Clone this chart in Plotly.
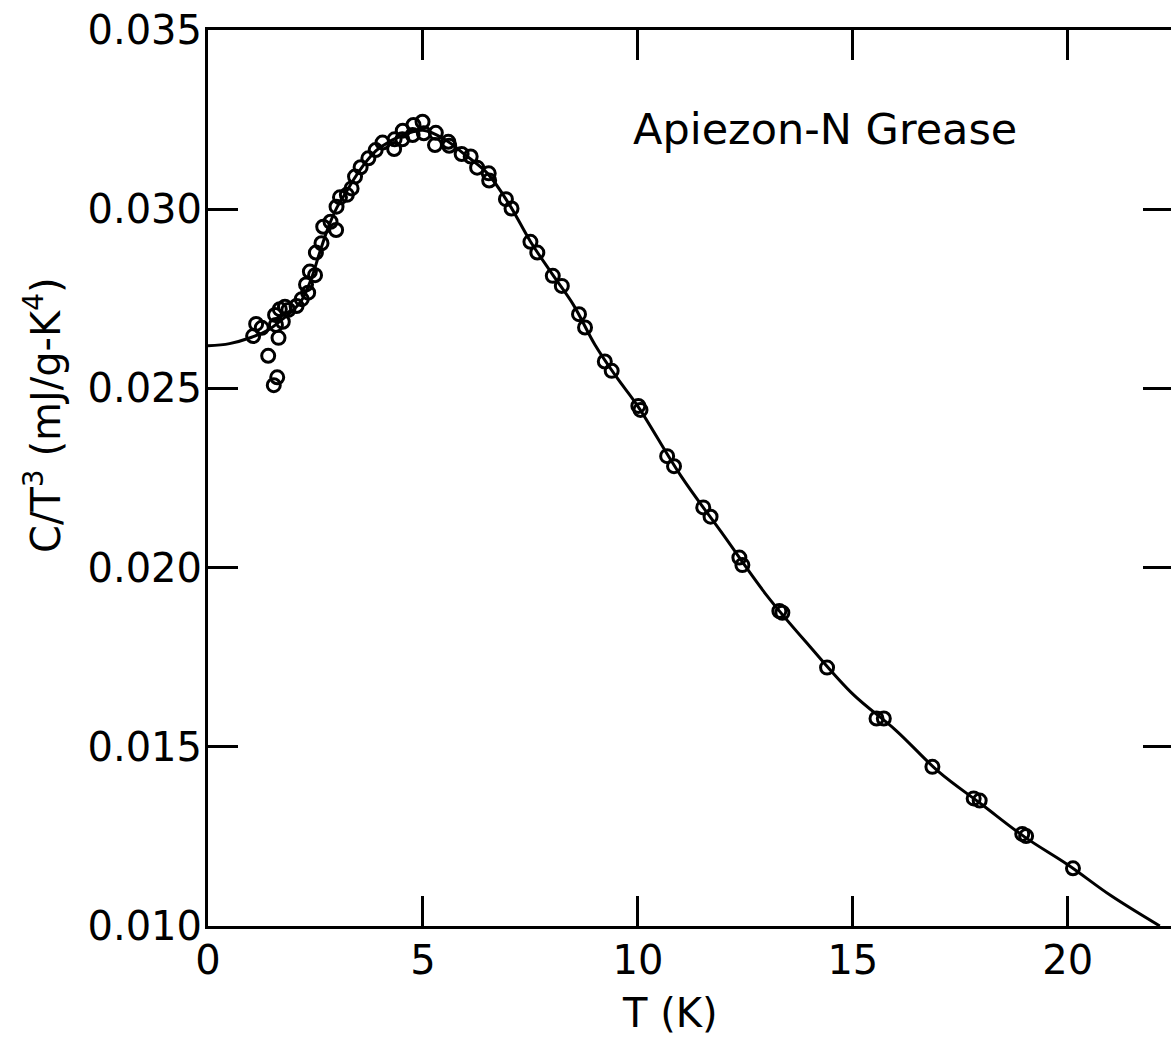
import plotly.graph_objects as go

# Measured points (T in K, C/T^3 in mJ/g-K^4)
T_pts = [1.05, 1.12, 1.25, 1.40, 1.53, 1.61, 1.64, 1.56, 1.58, 1.67, 1.74, 1.79, 1.87,
         2.06, 2.18, 2.28, 2.33, 2.37, 2.49, 2.51, 2.64, 2.68, 2.85, 2.98, 2.99, 3.07,
         3.23, 3.34, 3.42, 3.55, 3.73, 3.90, 4.06, 4.33, 4.34, 4.52, 4.53, 4.76, 4.78,
         4.99, 5.02, 5.28, 5.30, 5.59, 5.61, 5.90, 6.11, 6.26, 6.53, 6.54, 6.93, 7.06,
         7.50, 7.66, 8.02, 8.23, 8.63, 8.77, 9.23, 9.39, 10.01, 10.06, 10.68, 10.84,
         11.52, 11.69, 12.36, 12.43, 13.29, 13.36, 14.40, 15.55, 15.72, 16.85, 17.81,
         17.95, 18.94, 19.03, 20.12]
C_pts = [0.02646, 0.02680, 0.02669, 0.02591, 0.02509, 0.02531, 0.02641, 0.02705, 0.02677,
         0.02721, 0.02686, 0.02728, 0.02719, 0.02730, 0.02749, 0.02790, 0.02767, 0.02826,
         0.02816, 0.02879, 0.02905, 0.02951, 0.02965, 0.02942, 0.03007, 0.03033, 0.03040,
         0.03058, 0.03091, 0.03117, 0.03142, 0.03165, 0.03186, 0.03168, 0.03195, 0.03195,
         0.03219, 0.03207, 0.03235, 0.03244, 0.03212, 0.03179, 0.03213, 0.03188, 0.03177,
         0.03154, 0.03147, 0.03116, 0.03100, 0.03080, 0.03028, 0.03002, 0.02909, 0.02879,
         0.02814, 0.02786, 0.02707, 0.02670, 0.02575, 0.02549, 0.02451, 0.02440, 0.02311,
         0.02283, 0.02168, 0.02142, 0.02028, 0.02007, 0.01879, 0.01874, 0.01721, 0.01579,
         0.01579, 0.01444, 0.01356, 0.01350, 0.01257, 0.01251, 0.01161]

# Fitted curve
T_fit = [0, 0.5, 1.0, 1.4, 1.7, 2.0, 2.2, 2.4, 2.6, 2.8, 3.0, 3.2, 3.4, 3.6, 3.8, 4.0,
         4.5, 5.0, 5.5, 6.0, 6.5, 7.0, 7.5, 8.0, 8.5, 9.0, 9.5, 10, 11, 12, 13, 14, 15,
         16, 17, 18, 19, 20, 21, 22.14]
C_fit = [0.02619, 0.02625, 0.02642, 0.02663, 0.02690, 0.02720, 0.02750, 0.02805, 0.02880,
         0.02950, 0.03005, 0.03045, 0.03085, 0.03120, 0.03150, 0.03172, 0.03205, 0.03220,
         0.03195, 0.03150, 0.03100, 0.03015, 0.02910, 0.02820, 0.02733, 0.02622, 0.02532,
         0.02450, 0.02256, 0.02089, 0.01922, 0.01780, 0.01647, 0.01546, 0.01430, 0.01339,
         0.01248, 0.01171, 0.01085, 0.01000]

x_ticks = [0, 5, 10, 15, 20]
x_tick_labels = ["0", "5", "10", "15", "20"]
y_ticks = [0.010, 0.015, 0.020, 0.025, 0.030, 0.035]
y_tick_labels = ["0.010", "0.015", "0.020", "0.025", "0.030", "0.035"]

FONT = "DejaVu Sans"

fig = go.Figure()
fig.add_trace(go.Scatter(x=T_fit, y=C_fit, mode="lines",
                         line=dict(color="black", width=3, shape="spline"),
                         showlegend=False, hoverinfo="skip"))
fig.add_trace(go.Scatter(x=T_pts, y=C_pts, mode="markers",
                         marker=dict(symbol="circle-open", size=13, color="black",
                                     line=dict(color="black", width=3)),
                         showlegend=False))
# invisible trace to activate the right-hand tick axis
fig.add_trace(go.Scatter(x=[0], y=[0.02], yaxis="y2", mode="markers",
                         marker=dict(opacity=0), showlegend=False, hoverinfo="skip"))

fig.update_layout(
    width=1171, height=1037,
    margin=dict(l=208, r=0, t=30, b=111),
    paper_bgcolor="white", plot_bgcolor="white",
    font=dict(family=FONT, color="black", size=40),
    xaxis=dict(range=[0, 22.4], tickvals=x_ticks, ticktext=x_tick_labels,
               ticks="inside", ticklen=30, tickwidth=3, tickcolor="black",
               showline=True, linecolor="black", linewidth=3, mirror="ticks",
               showgrid=False, zeroline=False,
               tickfont=dict(size=40, family=FONT), ticklabelstandoff=-3),
    yaxis=dict(range=[0.010, 0.035], tickvals=y_ticks, ticktext=y_tick_labels,
               ticks="inside", ticklen=30, tickwidth=3, tickcolor="black",
               showline=True, linecolor="black", linewidth=3, mirror=False,
               showgrid=False, zeroline=False,
               tickfont=dict(size=40, family=FONT), ticklabelstandoff=-5),
    yaxis2=dict(range=[0.010, 0.035], overlaying="y", side="right",
                tickvals=y_ticks, showticklabels=False,
                ticks="inside", ticklen=28, tickwidth=3, tickcolor="black",
                showline=False, showgrid=False, zeroline=False),
    annotations=[
        dict(text="Apiezon-N Grease", x=14.35, y=0.03224, xref="x", yref="y",
             showarrow=False, font=dict(size=43, family=FONT),
             xanchor="center", yanchor="middle"),
        dict(text="T (K)", x=(670 - 208) / 963, y=0, xref="paper", yref="paper",
             yshift=-87, showarrow=False, font=dict(size=40, family=FONT),
             xanchor="center", yanchor="middle"),
        dict(text="C/T<sup>3</sup> (mJ/g-K<sup>4</sup>)", x=0, y=(926 - 415) / 896,
             xref="paper", yref="paper", xshift=-165, textangle=-90,
             showarrow=False, font=dict(size=40, family=FONT),
             xanchor="center", yanchor="middle"),
    ],
)

fig.write_html("out.html",
               config={"displayModeBar": False},
               post_script="document.body.style.margin='0';document.body.style.overflow='hidden';")
